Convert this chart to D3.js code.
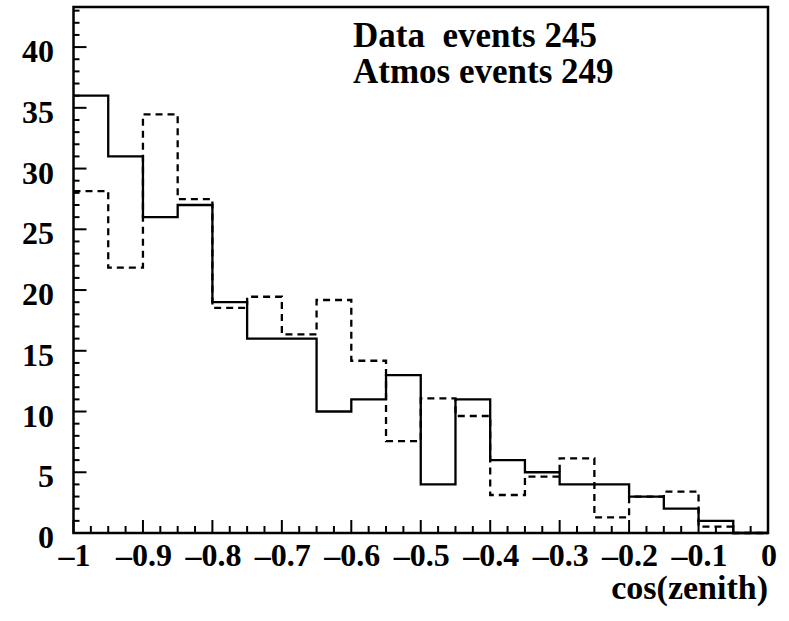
<!DOCTYPE html>
<html>
<head>
<meta charset="utf-8">
<script src="https://cdn.jsdelivr.net/npm/d3@7"></script>
<style>
  html, body { margin: 0; padding: 0; background: #fff; }
  svg { display: block; }
</style>
</head>
<body>
<script>
// Bin lower edges of cos(zenith) (bin width 0.05)
const binLow = [-1.00, -0.95, -0.90, -0.85, -0.80, -0.75, -0.70, -0.65, -0.60, -0.55,
                -0.50, -0.45, -0.40, -0.35, -0.30, -0.25, -0.20, -0.15, -0.10, -0.05];
const binWidth = 0.05;
// Data (solid)
const dataCounts = [36, 31, 26, 27, 19, 16, 16, 10, 11, 13, 4, 11, 6, 5, 4, 4, 3, 2, 1, 0];
// Atmospheric MC (dashed)
const atmosCounts = [28.15, 21.84, 34.46, 27.49, 18.54, 19.45, 16.35, 19.18, 14.18, 7.57,
                     11.08, 9.63, 3.13, 4.64, 6.15, 1.29, 2.99, 3.40, 0.52, 0];
const xTickValues = [-1, -0.9, -0.8, -0.7, -0.6, -0.5, -0.4, -0.3, -0.2, -0.1, 0];
const xTickLabels = ["\u20131", "\u20130.9", "\u20130.8", "\u20130.7", "\u20130.6", "\u20130.5", "\u20130.4", "\u20130.3", "\u20130.2", "\u20130.1", "0"];
const yTickValues = [0, 5, 10, 15, 20, 25, 30, 35, 40];
const legendLines = ["Data\u00a0 events 245", "Atmos events 249"];
const xTitle = "cos(zenith)";

const FONT = "Liberation Serif";
const W = 789, H = 621;
const frame = { left: 73.5, right: 768, top: 7, bottom: 533 };
const svg = d3.select("body").append("svg").attr("width", W).attr("height", H);

const x = d3.scaleLinear().domain([-1, 0]).range([frame.left, frame.right]);
const y = d3.scaleLinear().domain([0, 43.3]).range([frame.bottom, frame.top]);

// Minor/major ticks
const g = svg.append("g");
const xMinor = d3.range(0, 41).map(i => -1 + i * 0.025);
g.selectAll(".xt").data(xMinor).enter().append("line")
  .attr("x1", d => x(d)).attr("x2", d => x(d))
  .attr("y1", frame.bottom)
  .attr("y2", (d, i) => frame.bottom - (i % 4 === 0 ? 13 : 7))
  .attr("stroke", "#000").attr("stroke-width", 2);
const yMinor = d3.range(0, 44);
g.selectAll(".yt").data(yMinor).enter().append("line")
  .attr("y1", d => y(d)).attr("y2", d => y(d))
  .attr("x1", frame.left)
  .attr("x2", d => frame.left + (d % 5 === 0 ? 13 : 6))
  .attr("stroke", "#000").attr("stroke-width", 2);

// Histograms
function stepPts(vals) {
  const pts = binLow.map((b, i) => [b, vals[i]]);
  pts.push([binLow[binLow.length - 1] + binWidth, vals[vals.length - 1]]);
  return pts;
}
const line = d3.line().x(d => x(d[0])).y(d => y(d[1])).curve(d3.curveStepAfter);
svg.append("path").attr("d", line(stepPts(atmosCounts)))
  .attr("fill", "none").attr("stroke", "#000").attr("stroke-width", 2.3)
  .attr("stroke-dasharray", "7,5");
svg.append("path").attr("d", line(stepPts(dataCounts)))
  .attr("fill", "none").attr("stroke", "#000").attr("stroke-width", 2.3);

// Frame
svg.append("rect").attr("x", frame.left).attr("y", frame.top)
  .attr("width", frame.right - frame.left).attr("height", frame.bottom - frame.top)
  .attr("fill", "none").attr("stroke", "#000").attr("stroke-width", 2.5);

function txt(sel) {
  return sel.attr("font-family", FONT).attr("font-weight", "bold").attr("fill", "#000");
}

// Axis labels
txt(svg.selectAll(".xl").data(xTickValues).enter().append("text"))
  .attr("x", d => x(d) + 1).attr("y", 566)
  .attr("text-anchor", "middle").attr("font-size", 32)
  .text((d, i) => xTickLabels[i]);
txt(svg.selectAll(".yl").data(yTickValues).enter().append("text"))
  .attr("x", 54).attr("y", d => y(d) + 15)
  .attr("text-anchor", "end").attr("font-size", 32)
  .text(d => d);

txt(svg.append("text")).attr("x", 768).attr("y", 599).attr("text-anchor", "end")
  .attr("font-size", 34).text(xTitle);

txt(svg.selectAll(".lg").data(legendLines).enter().append("text"))
  .attr("x", 353).attr("y", (d, i) => 47 + i * 36)
  .attr("font-size", 35)
  .text(d => d);
</script>
</body>
</html>
